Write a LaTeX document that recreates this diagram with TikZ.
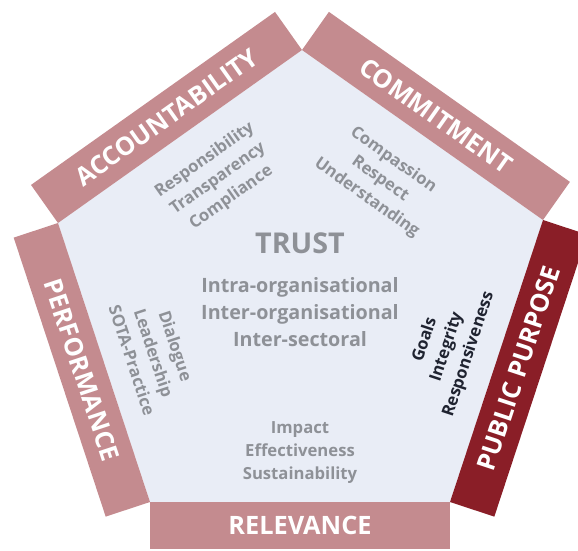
\documentclass[tikz,border=0pt]{standalone}
\usepackage{fontspec}
\setmainfont{Open Sans}
\usepackage{tikz}
\usetikzlibrary{calc}
\definecolor{rosebar}{HTML}{C48B8F}
\definecolor{purposebar}{HTML}{8A1E27}
\definecolor{facefill}{HTML}{E9EDF6}
\definecolor{listgrey}{HTML}{8E9197}
\definecolor{listdark}{HTML}{1F2330}

\begin{document}
\begin{tikzpicture}[x=0.75pt,y=-0.75pt,
	bar/.style={fill=rosebar},
	barlabel/.style={text=white,font=\bfseries\fontsize{19}{20}\selectfont},
	valuelist/.style={text=listgrey,align=center,font=\bfseries\fontsize{12.5}{17.25}\selectfont},
	core/.style={text=listgrey,align=center,font=\bfseries\fontsize{14.8}{20}\selectfont}]
	\useasboundingbox (0,0) rectangle (578,550);
	\clip (0,0) rectangle (578,550);
	\coordinate (l) at (58,223);
	\coordinate (t) at (302,50);
	\coordinate (r) at (543,220);
	\coordinate (br) at (450,502);
	\coordinate (bl) at (150,502);
	\fill[facefill] (l) -- (t) -- (r) -- (br) -- (bl) -- cycle;

	% outer corners of the five bars
	\coordinate (lt) at ($(l)!35pt!90:(t)$);
	\coordinate (tl) at ($(t)!35pt!-90:(l)$);
	\coordinate (tr) at ($(t)!35pt!90:(r)$);
	\coordinate (rt) at ($(r)!35pt!-90:(t)$);
	\coordinate (rb) at ($(r)!35pt!90:(br)$);
	\coordinate (brr) at ($(br)!35pt!-90:(r)$);
	\coordinate (brl) at ($(br)!35pt!90:(bl)$);
	\coordinate (blr) at ($(bl)!35pt!-90:(br)$);
	\coordinate (bll) at ($(bl)!35pt!90:(l)$);
	\coordinate (lb) at ($(l)!35pt!-90:(bl)$);

	\fill[bar] (l) -- (t) -- (tl) -- (lt) -- cycle;
	\fill[bar] (t) -- (r) -- (rt) -- (tr) -- cycle;
	\fill[bar,fill=purposebar] (r) -- (br) -- (brr) -- (rb) -- cycle;
	\fill[bar] (br) -- (bl) -- (blr) -- (brl) -- cycle;
	\fill[bar] (bl) -- (l) -- (lb) -- (bll) -- cycle;

	\node[barlabel,rotate=35.3] (acc) at ($(l)!0.5!(tl)$) {ACCOUNTABILITY};
	\node[barlabel,rotate=-35.2] (com) at ($(t)!0.5!(rt)$) {COMMITMENT};
	\node[barlabel,rotate=71.7] (pub) at ($(r)!0.5!(brr)$) {PUBLIC PURPOSE};
	\node[barlabel] (rel) at ($(br)!0.5!(blr)$) {RELEVANCE};
	\node[barlabel,rotate=-71.7] (perf) at ($(bl)!0.5!(lb)$) {PERFORMANCE};

	\node[valuelist,rotate=35.3] (acclist) at (218,179) {Responsibility\\Transparency\\Compliance};
	\node[valuelist,rotate=-35.2] (comlist) at (380,179) {Compassion\\Respect\\Understanding};
	\node[valuelist,rotate=-71.7] (perflist) at (154,353) {Dialogue\\Leadership\\SOTA-Practice};
	\node[valuelist,rotate=71.7,text=listdark] (publist) at (447,347) {Goals\\Integrity\\Responsiveness};
	\node[valuelist] (rellist) at (300,453) {Impact\\Effectiveness\\Sustainability};

	\node[core,font=\bfseries\fontsize{21.5}{22}\selectfont] (trust) at (300,243) {TRUST};
	\node[core] (levels) at (300,312) {Intra-organisational\\Inter-organisational\\Inter-sectoral};
\end{tikzpicture}
\end{document}
